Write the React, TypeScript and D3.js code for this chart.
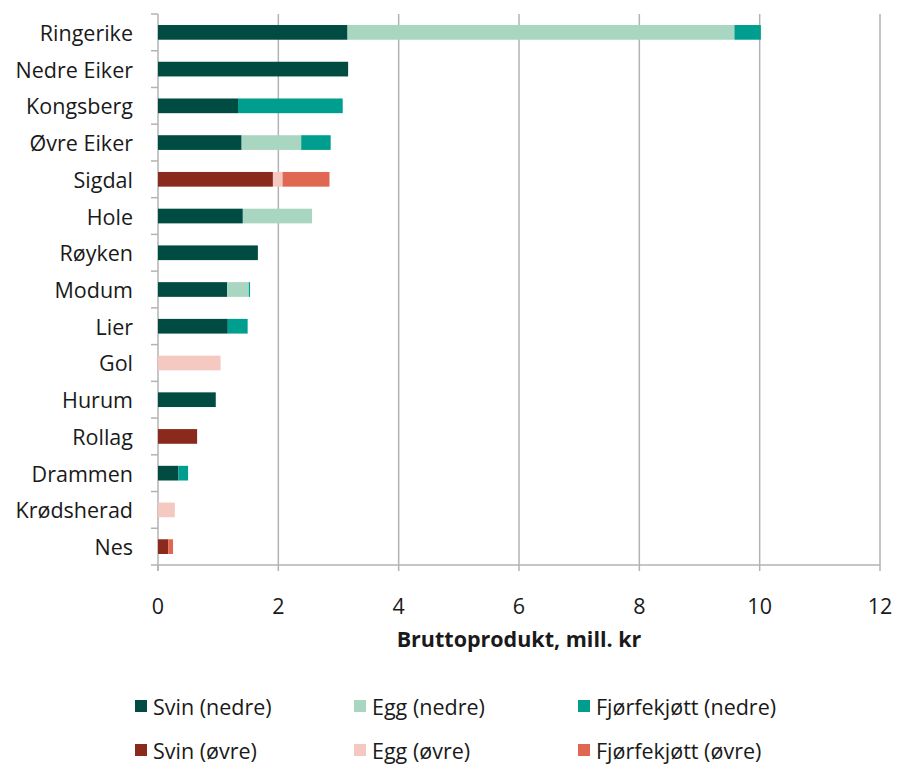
import React from 'react';
import * as d3 from 'd3';

const categories = [
  'Ringerike', 'Nedre Eiker', 'Kongsberg', 'Øvre Eiker', 'Sigdal', 'Hole', 'Røyken',
  'Modum', 'Lier', 'Gol', 'Hurum', 'Rollag', 'Drammen', 'Krødsherad', 'Nes',
];

const seriesNames = [
  'Svin (nedre)', 'Egg (nedre)', 'Fjørfekjøtt (nedre)',
  'Svin (øvre)', 'Egg (øvre)', 'Fjørfekjøtt (øvre)',
];
const seriesColors = ['#004c42', '#a8d6c1', '#009e8f', '#8a2a1d', '#f5c8c1', '#e06752'];

const svinNedre = [3.15, 3.16, 1.33, 1.39, 0, 1.41, 1.66, 1.15, 1.16, 0, 0.96, 0, 0.34, 0, 0];
const eggNedre = [6.43, 0, 0, 0.99, 0, 1.15, 0, 0.36, 0, 0, 0, 0, 0, 0, 0];
const fjorfeNedre = [0.44, 0, 1.74, 0.49, 0, 0, 0, 0.02, 0.33, 0, 0, 0, 0.16, 0, 0];
const svinOvre = [0, 0, 0, 0, 1.91, 0, 0, 0, 0, 0, 0, 0.65, 0, 0, 0.17];
const eggOvre = [0, 0, 0, 0, 0.16, 0, 0, 0, 0, 1.04, 0, 0, 0, 0.28, 0];
const fjorfeOvre = [0, 0, 0, 0, 0.78, 0, 0, 0, 0, 0, 0, 0, 0, 0, 0.08];

const xTicks = [0, 2, 4, 6, 8, 10, 12];

const allSeries = [svinNedre, eggNedre, fjorfeNedre, svinOvre, eggOvre, fjorfeOvre];

export default function App() {
  const width = 898;
  const height = 770;
  const margin = { top: 14, left: 158, right: 18, bottom: 205 };
  const font = "'Open Sans', sans-serif";
  const fs = 21.5;

  const x = d3.scaleLinear().domain([0, 12]).range([margin.left, width - margin.right]);
  const y = d3.scaleBand().domain(categories).range([margin.top, height - margin.bottom]).paddingInner(0.6).paddingOuter(0.3);
  const yOuter = d3.scaleBand().domain(categories).range([margin.top, height - margin.bottom]);

  const rows = categories.map((c, i) => {
    const r: Record<string, number | string> = { cat: c };
    seriesNames.forEach((s, j) => { r[s] = allSeries[j][i]; });
    return r;
  });
  const stacked = d3.stack<Record<string, number | string>>().keys(seriesNames)(rows);

  const plotBottom = height - margin.bottom;
  const gridColor = '#b3b3b3';

  const legendCols = [135, 354, 578];
  const legendRows = [706, 750];

  return (
    <svg width={width} height={height} style={{ display: 'block', position: 'absolute', left: 0, top: 0 }}>
      <rect width={width} height={height} fill="#fff" />
      {xTicks.slice(1).map(t => (
        <line key={t} x1={x(t)} x2={x(t)} y1={margin.top} y2={plotBottom} stroke={gridColor} strokeWidth={1.5} />
      ))}
      {/* axes */}
      <line x1={x(0)} x2={x(0)} y1={margin.top} y2={plotBottom + 6} stroke={gridColor} strokeWidth={1.5} />
      <line x1={x(0) - 7} x2={x(12)} y1={plotBottom} y2={plotBottom} stroke={gridColor} strokeWidth={1.5} />
      {categories.map(c => (
        <line key={c} x1={x(0) - 7} x2={x(0)} y1={yOuter(c)!} y2={yOuter(c)!} stroke={gridColor} strokeWidth={1.5} />
      ))}
      {xTicks.map(t => (
        <line key={t} x1={x(t)} x2={x(t)} y1={plotBottom} y2={plotBottom + 6} stroke={gridColor} strokeWidth={1.5} />
      ))}
      {stacked.map((layer, j) => (
        <g key={layer.key} fill={seriesColors[j]}>
          {layer.map((d, i) => d[1] - d[0] > 0 ? (
            <rect key={i} x={x(d[0])} y={y(categories[i])!} width={x(d[1]) - x(d[0])} height={y.bandwidth()} />
          ) : null)}
        </g>
      ))}
      {categories.map(c => (
        <text key={c} x={133} y={yOuter(c)! + yOuter.bandwidth() / 2} textAnchor="end" dominantBaseline="central"
          fontFamily={font} fontSize={fs} fill="#1a1a1a">{c}</text>
      ))}
      {xTicks.map(t => (
        <text key={t} x={x(t)} y={605} textAnchor="middle" dominantBaseline="central"
          fontFamily={font} fontSize={fs} fill="#1a1a1a">{t}</text>
      ))}
      <text x={(x(0) + x(12)) / 2} y={638} textAnchor="middle" dominantBaseline="central"
        fontFamily={font} fontSize={fs} fontWeight="bold" fill="#1a1a1a">Bruttoprodukt, mill. kr</text>
      {seriesNames.map((s, j) => {
        const lx = legendCols[j % 3];
        const ly = legendRows[Math.floor(j / 3)];
        return (
          <g key={s}>
            <rect x={lx} y={ly - 6} width={12} height={12} fill={seriesColors[j]} />
            <text x={lx + 18} y={ly} dominantBaseline="central" fontFamily={font} fontSize={fs} fill="#1a1a1a">{s}</text>
          </g>
        );
      })}
    </svg>
  );
}
